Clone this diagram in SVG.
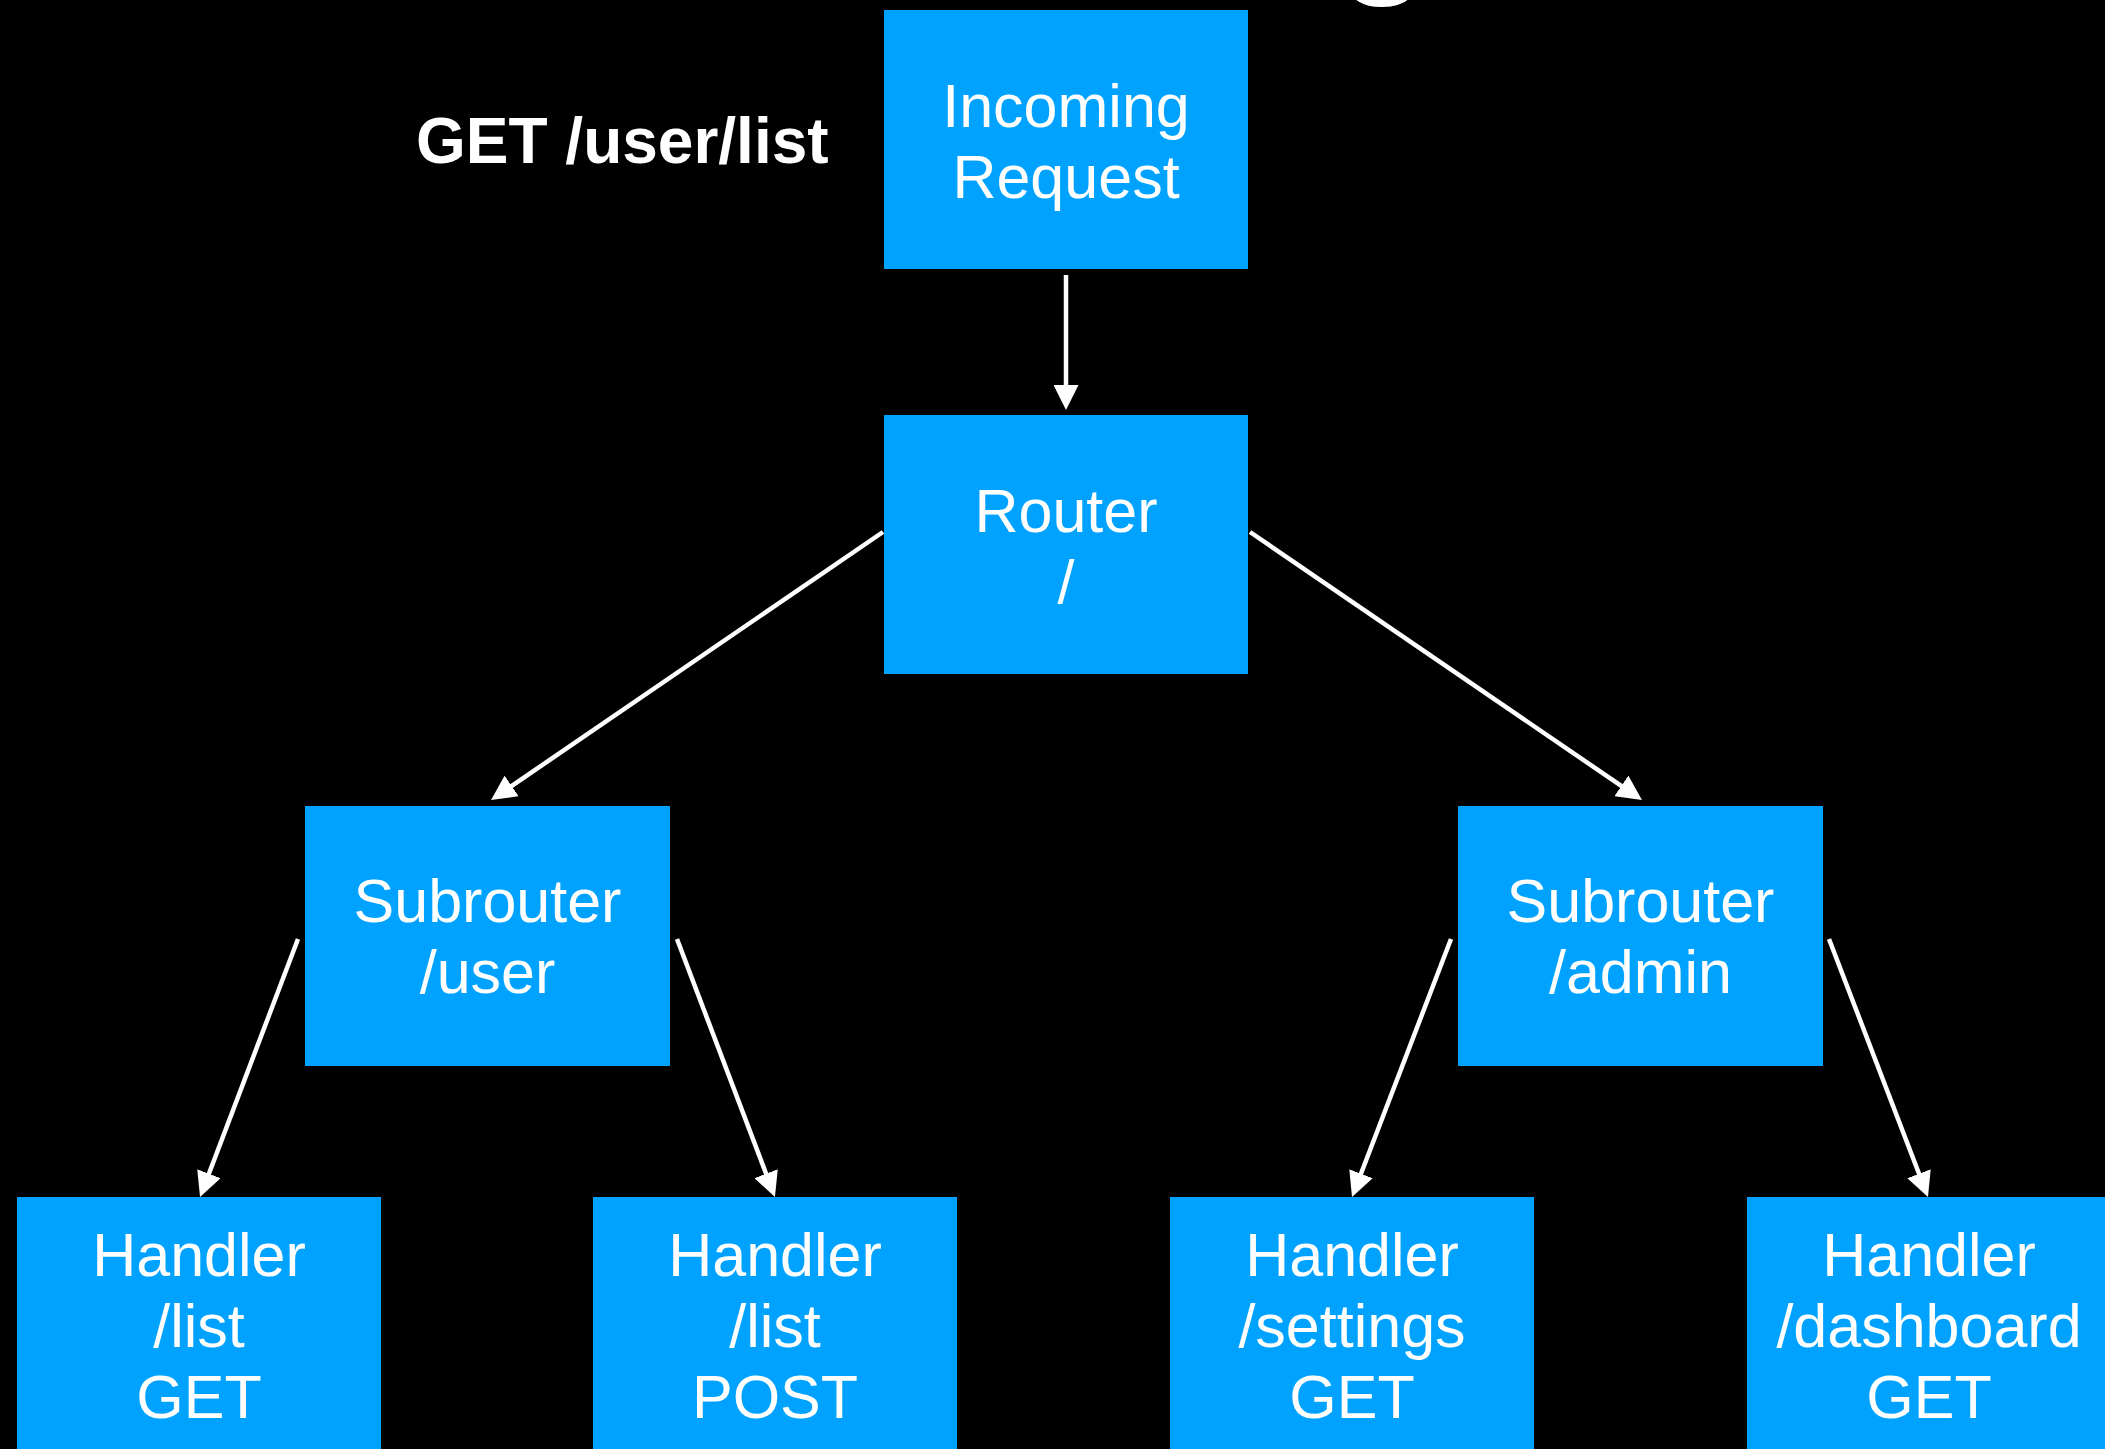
<svg xmlns="http://www.w3.org/2000/svg" width="2105" height="1449" viewBox="0 0 2105 1449">
  <style>
    .box { fill: #00A2FF; }
    .lbl { fill: #FFFFFF; font-family: "Liberation Sans", Arial, Helvetica, sans-serif; font-size: 61px; text-anchor: middle; }
    .edge { stroke: #FFFFFF; stroke-width: 4.5; fill: none; marker-end: url(#arrow); }
  </style>
  <defs>
    <marker id="arrow" viewBox="0 0 25 25" markerUnits="userSpaceOnUse" markerWidth="25" markerHeight="25" refX="15" refY="12.5" orient="auto">
      <path d="M0,0 L25,12.5 L0,25 z" fill="#FFFFFF"/>
    </marker>
  </defs>
  <rect width="2105" height="1449" fill="#000000"/>

  <text x="1384" y="-25" fill="#FFFFFF" font-family="Liberation Sans, Arial, sans-serif" font-weight="bold" font-size="150" text-anchor="middle">g</text>

  <text x="416" y="163" fill="#FFFFFF" font-family="Liberation Sans, Arial, Helvetica, sans-serif" font-weight="bold" font-size="64">GET /user/list</text>

  <g id="edges">
    <line class="edge" x1="1066" y1="275" x2="1066" y2="400"/>
    <line class="edge" x1="883" y1="532" x2="499.3" y2="794.4"/>
    <line class="edge" x1="1250" y1="532" x2="1633.7" y2="794.4"/>
    <line class="edge" x1="298" y1="939" x2="203.6" y2="1187.7"/>
    <line class="edge" x1="677" y1="939" x2="771.4" y2="1187.7"/>
    <line class="edge" x1="1451" y1="939" x2="1355.6" y2="1187.7"/>
    <line class="edge" x1="1829" y1="939" x2="1924.4" y2="1187.7"/>
  </g>

  <g id="incoming">
    <rect class="box" x="884" y="10" width="364" height="259"/>
    <text class="lbl" x="1066" y="127">Incoming</text>
    <text class="lbl" x="1066" y="198">Request</text>
  </g>
  <g id="router">
    <rect class="box" x="884" y="415" width="364" height="259"/>
    <text class="lbl" x="1066" y="532">Router</text>
    <text class="lbl" x="1066" y="603">/</text>
  </g>
  <g id="subrouter-user">
    <rect class="box" x="305" y="806" width="365" height="260"/>
    <text class="lbl" x="487.5" y="922">Subrouter</text>
    <text class="lbl" x="487.5" y="993">/user</text>
  </g>
  <g id="subrouter-admin">
    <rect class="box" x="1458" y="806" width="365" height="260"/>
    <text class="lbl" x="1640.5" y="922">Subrouter</text>
    <text class="lbl" x="1640.5" y="993">/admin</text>
  </g>
  <g id="handler-list-get">
    <rect class="box" x="17" y="1197" width="364" height="259"/>
    <text class="lbl" x="199" y="1276">Handler</text>
    <text class="lbl" x="199" y="1347">/list</text>
    <text class="lbl" x="199" y="1418">GET</text>
  </g>
  <g id="handler-list-post">
    <rect class="box" x="593" y="1197" width="364" height="259"/>
    <text class="lbl" x="775" y="1276">Handler</text>
    <text class="lbl" x="775" y="1347">/list</text>
    <text class="lbl" x="775" y="1418">POST</text>
  </g>
  <g id="handler-settings-get">
    <rect class="box" x="1170" y="1197" width="364" height="259"/>
    <text class="lbl" x="1352" y="1276">Handler</text>
    <text class="lbl" x="1352" y="1347">/settings</text>
    <text class="lbl" x="1352" y="1418">GET</text>
  </g>
  <g id="handler-dashboard-get">
    <rect class="box" x="1747" y="1197" width="364" height="259"/>
    <text class="lbl" x="1929" y="1276">Handler</text>
    <text class="lbl" x="1929" y="1347">/dashboard</text>
    <text class="lbl" x="1929" y="1418">GET</text>
  </g>
</svg>
